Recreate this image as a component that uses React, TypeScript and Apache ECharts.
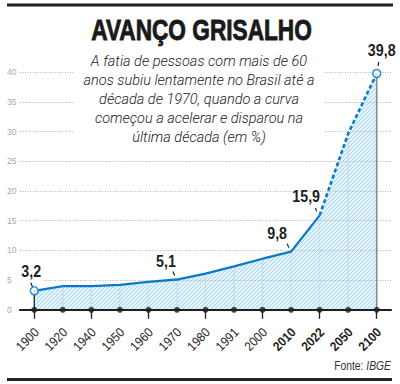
import React, { useEffect, useRef } from 'react';
import * as echarts from 'echarts';

// ---- data ----
const years = ['1900', '1920', '1940', '1950', '1960', '1970', '1980', '1991', '2000', '2010', '2022', '2050', '2100'];
const boldYears = ['2010', '2022', '2050', '2100'];
const share = [3.2, 4.0, 4.0, 4.2, 4.7, 5.1, 6.1, 7.3, 8.6, 9.8, 15.9, 29.7, 39.8];
const lastObservedIndex = 10; // 2022: solid up to here, dashed projection after
const labeledIndices = [0, 5, 9, 10, 12];
const markerIndices = [0, 12];
const yMin = 0;
const yMax = 40;
const yInterval = 5;

const titleText = 'AVANÇO GRISALHO';
const subtitleLines = [
  'A fatia de pessoas com mais de 60',
  'anos subiu lentamente no Brasil até a',
  'década de 1970, quando a curva',
  'começou a acelerar e disparou na',
  'última década (em %)',
];
const sourceLabel = 'Fonte: ';
const sourceName = 'IBGE';

// ---- styling ----
const BLUE = '#0b7ac6';
const INK = '#1e1e1e';
const SANS = '"Liberation Sans", Arial, sans-serif';

const labelOffsets: Record<number, [number, number]> = {
  0: [-3, -19.5],
  5: [-11, -18],
  9: [-14, -19],
  10: [-13.5, -19],
  12: [5, -23],
};
const leaderOffsets: Record<number, [[number, number], [number, number]]> = {
  0: [[-3.5, -8], [-1.8, -4]],
  5: [[-4, -8], [-2.3, -4]],
  9: [[-4, -8], [-2.3, -4]],
  10: [[-4.3, -7.5], [-3, -4]],
  12: [[2, -11.5], [1.4, -7.5]],
};

function fmt(v: number) {
  return v.toFixed(1).replace('.', ',');
}

function makeHatch() {
  const s = 4;
  const c = document.createElement('canvas');
  c.width = s;
  c.height = s;
  const ctx = c.getContext('2d')!;
  ctx.fillStyle = 'rgba(150,210,240,0.27)';
  ctx.fillRect(0, 0, s, s);
  ctx.strokeStyle = 'rgba(95,180,230,0.45)';
  ctx.lineWidth = 1;
  ctx.beginPath();
  ctx.moveTo(0, s);
  ctx.lineTo(s, 0);
  ctx.moveTo(-1, 1);
  ctx.lineTo(1, -1);
  ctx.moveTo(s - 1, s + 1);
  ctx.lineTo(s + 1, s - 1);
  ctx.stroke();
  return c;
}

export default function App() {
  const ref = useRef<HTMLDivElement>(null);

  useEffect(() => {
    const chart = echarts.init(ref.current!, null, { renderer: 'svg' });
    const hatch = makeHatch();

    const option: any = {
      animation: false,
      backgroundColor: '#fff',
      grid: { left: 20, right: 9, top: 72.3, bottom: 74.2, containLabel: false, outerBoundsMode: 'none' },
      xAxis: {
        type: 'category',
        data: years,
        boundaryGap: true,
        z: 8,
        axisLine: { show: true, lineStyle: { color: INK, width: 2.2 } },
        axisTick: { show: true, alignWithLabel: true, length: 9, lineStyle: { color: INK, width: 1.3 } },
        splitLine: { show: false },
        axisLabel: { show: false },
      },
      yAxis: {
        type: 'value',
        min: yMin,
        max: yMax,
        interval: yInterval,
        z: 2,
        axisLine: { show: false },
        axisTick: { show: false },
        axisLabel: { align: 'left', margin: 13, color: '#a8a8a8', fontSize: 8.5, fontFamily: SANS },
        splitLine: { show: true, lineStyle: { type: [1, 1.5], color: '#b5b5b5', width: 1 } },
      },
      series: [
        {
          type: 'line',
          name: 'area',
          data: share,
          symbol: 'none',
          silent: true,
          z: 1,
          lineStyle: { width: 0, opacity: 0 },
          areaStyle: {
            color: { image: hatch, repeat: 'repeat', imageWidth: 4, imageHeight: 4 },
            opacity: 1,
          },
        },
        {
          type: 'custom',
          name: 'verticals',
          z: 3,
          silent: true,
          data: share.map((v, i) => [i, v]),
          renderItem: (params: any, api: any) => {
            const i = api.value(0);
            const top = api.coord([i, api.value(1)]);
            const bot = api.coord([i, 0]);
            let style: any = { stroke: '#c4c4c4', lineWidth: 1, lineDash: [2, 2] };
            if (i === 0) style = { stroke: INK, lineWidth: 1.3 };
            if (i === years.length - 1) style = { stroke: '#8a8a8a', lineWidth: 1.6 };
            return {
              type: 'line',
              shape: { x1: top[0], y1: top[1], x2: bot[0], y2: bot[1] },
              style,
            };
          },
        },
        {
          type: 'line',
          name: 'observed',
          data: share.map((v, i) => (i <= lastObservedIndex ? v : '-')),
          symbol: 'none',
          z: 4,
          lineStyle: { color: BLUE, width: 2.3 },
        },
        {
          type: 'line',
          name: 'projected',
          data: share.map((v, i) => (i >= lastObservedIndex ? v : '-')),
          symbol: 'none',
          z: 4,
          lineStyle: { color: BLUE, width: 2.6, type: [4, 2.5] },
        },
        {
          type: 'scatter',
          name: 'markers',
          z: 6,
          data: markerIndices.map((i) => [i, share[i]]),
          symbol: 'circle',
          symbolSize: 8,
          itemStyle: { color: '#fff', borderColor: BLUE, borderWidth: 1.6 },
        },
        {
          type: 'custom',
          name: 'labels',
          z: 7,
          silent: true,
          data: labeledIndices.map((i) => [i, share[i]]),
          renderItem: (params: any, api: any) => {
            const i = api.value(0);
            const v = api.value(1);
            const p = api.coord([i, v]);
            const lo = labelOffsets[i];
            const ld = leaderOffsets[i];
            return {
              type: 'group',
              children: [
                {
                  type: 'line',
                  shape: { x1: p[0] + ld[0][0], y1: p[1] + ld[0][1], x2: p[0] + ld[1][0], y2: p[1] + ld[1][1] },
                  style: { stroke: INK, lineWidth: 1.2 },
                },
                {
                  type: 'text',
                  x: p[0] + lo[0],
                  y: p[1] + lo[1],
                  scaleX: 0.84,
                  style: {
                    text: fmt(v),
                    fill: INK,
                    fontFamily: SANS,
                    fontSize: 17,
                    fontWeight: 'bold',
                    align: 'center',
                    verticalAlign: 'middle',
                    backgroundColor: i === 0 ? '#fff' : 'transparent',
                    padding: [2, 3],
                  },
                },
              ],
            };
          },
        },
        {
          type: 'custom',
          name: 'yearLabels',
          z: 8,
          silent: true,
          data: years.map((_, i) => [i, 0]),
          renderItem: (params: any, api: any) => {
            const i = api.value(0);
            const p = api.coord([i, 0]);
            const y = years[i];
            return {
              type: 'text',
              x: p[0] + 2.5,
              y: p[1] + 20.5,
              rotation: Math.PI / 4,
              scaleX: 0.9,
              style: {
                text: y,
                fill: INK,
                fontFamily: SANS,
                fontSize: 13,
                fontWeight: boldYears.includes(y) ? 'bold' : 'normal',
                align: 'right',
                verticalAlign: 'middle',
              },
            };
          },
        },
        {
          type: 'scatter',
          name: 'axisDots',
          z: 9,
          silent: true,
          data: years.map((_, i) => [i, 0]),
          symbol: 'circle',
          symbolSize: 6,
          itemStyle: { color: INK },
        },
      ],
      graphic: [
        { type: 'rect', z: 5, shape: { x: 7, y: 3.5, width: 386, height: 3 }, style: { fill: '#222' } },
        { type: 'rect', z: 5, shape: { x: 7, y: 378, width: 385, height: 3 }, style: { fill: '#222' } },
        {
          type: 'text',
          z: 5,
          x: 201.5,
          y: 30,
          scaleX: 0.755,
          style: {
            text: titleText,
            fill: '#1a1a1a',
            stroke: '#1a1a1a',
            lineWidth: 0.9,
            fontFamily: SANS,
            fontSize: 30,
            fontWeight: 'bold',
            align: 'center',
            verticalAlign: 'middle',
          },
        },
        { type: 'rect', z: 5, shape: { x: 74, y: 48, width: 251, height: 97 }, style: { fill: '#fff' } },
        {
          type: 'text',
          z: 5,
          x: 199,
          y: 52.5,
          style: {
            text: subtitleLines.join('\n'),
            fill: '#222',
            fontFamily: 'Roboto, "Liberation Sans", sans-serif',
            fontStyle: 'italic',
            fontWeight: 300,
            fontSize: 14.5,
            lineHeight: 18.8,
            align: 'center',
            verticalAlign: 'top',
          },
        },
        {
          type: 'text',
          z: 5,
          x: 391,
          y: 366,
          scaleX: 0.86,
          style: {
            text: `{n|${sourceLabel}}{i|${sourceName}}`,
            align: 'right',
            verticalAlign: 'middle',
            rich: {
              n: { fontFamily: SANS, fontSize: 12, fill: '#333' },
              i: { fontFamily: SANS, fontSize: 12, fill: '#333', fontStyle: 'italic' },
            },
          },
        },
      ],
    };

    chart.setOption(option);
    return () => chart.dispose();
  }, []);

  return <div ref={ref} style={{ position: 'fixed', left: 0, top: 0, width: 400, height: 384 }} />;
}
